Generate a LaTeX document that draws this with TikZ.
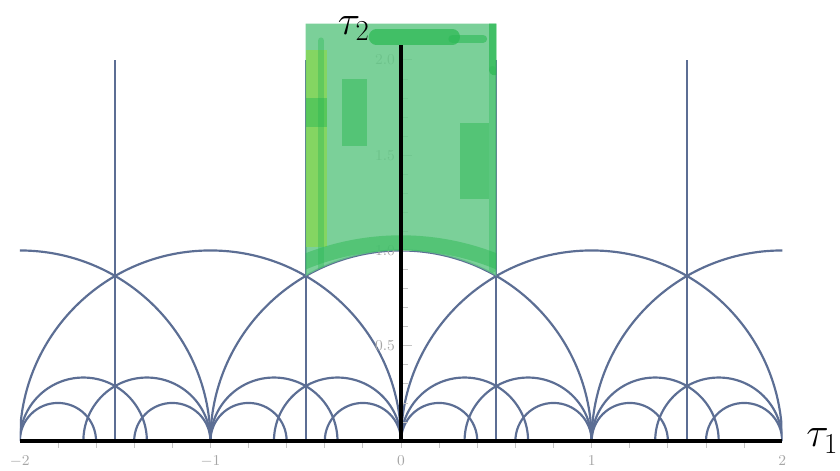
\documentclass[tikz,border=0pt]{standalone}
\usepackage{amsmath}
\usepackage{amssymb}
\usepackage{tikz}
\usetikzlibrary{positioning}

\definecolor{tilecol}{RGB}{92,110,148}
\definecolor{domfill}{RGB}{100,200,135}
\definecolor{domdark}{RGB}{45,185,85}
\definecolor{domlime}{RGB}{135,215,85}

\begin{document}
\begin{tikzpicture}[x=4cm,y=4cm]

\tikzset{
  tile line/.style={
    draw=tilecol,
    line width=1.3pt,
  },
  axis line/.style={
    draw=black,
    line width=2.4pt,
  },
  tick mark/.style={
    draw=gray!45,
    line width=0.5pt,
  },
  tick label/.style={
    text=gray!70,
    font=\fontsize{9}{10}\selectfont,
    inner sep=0pt,
  },
  axis label/.style={
    inner sep=0pt,
    font=\fontsize{24}{28}\selectfont,
  },
  smear/.style={
    draw=domdark,
    line width=#1,
    line cap=round,
    opacity=0.75,
  },
}

  \useasboundingbox (-2.104,-0.157) rectangle (2.303,2.314);

  % Tessellation
  \begin{scope}
    \clip (-2,0) rectangle (2,2.1);
    \foreach \c in {-2,...,2}
      \draw[tile line] ({\c-1},0) arc[start angle=180,end angle=0,radius=1];
    \foreach \n in {-2,...,1} {
      \draw[tile line] ({\n+0.5},0) -- ({\n+0.5},2);
      \draw[tile line] (\n,0) arc[start angle=180,end angle=0,radius=1/3];
      \draw[tile line] ({\n+1/3},0) arc[start angle=180,end angle=0,radius=1/3];
      \draw[tile line] (\n,0) arc[start angle=180,end angle=0,radius=0.2];
      \draw[tile line] ({\n+0.6},0) arc[start angle=180,end angle=0,radius=0.2];
    }
  \end{scope}

  % Ticks
  \foreach \x in {-1.8,-1.6,...,1.9}
    \draw[tick mark] (\x,-0.01) -- ++(0,-0.025);
  \foreach \y in {0.1,0.2,...,2.05}
    \draw[tick mark] (0.012,\y) -- ++(0.025,0);
  \foreach \y in {0.5,1.0,1.5,2.0}
    \draw[tick mark] (0.012,\y) -- ++(0.045,0);

  \foreach \x [count=\k] in {-2,...,2}
    \node[tick label] (xl\k) at (\x,-0.105) {$\x$};
  \foreach \y [count=\k] in {0.5,1.0,1.5,2.0}
    \node[tick label, anchor=east] (yl\k) at (-0.03,\y) {\y};

  % Fundamental domain
  \begin{scope}
    \clip (-0.5,2.19) -- (-0.5,{sqrt(3)/2})
      arc[start angle=120,end angle=60,radius=1] -- (0.5,2.19) -- cycle;
    \fill[domfill, opacity=0.85] (-0.6,0.8) rectangle (0.6,2.3);
    \fill[domlime, opacity=0.8] (-0.5,1.02) rectangle (-0.39,2.05);
    \fill[domdark, opacity=0.5] (-0.5,1.65) rectangle (-0.39,1.8);
    \fill[domdark, opacity=0.5] (-0.31,1.55) rectangle (-0.18,1.9);
    \fill[domdark, opacity=0.5] (0.31,1.27) rectangle (0.46,1.67);
    \draw[smear=9pt] (-0.13,2.12) -- (0.27,2.12);
    \draw[smear=5pt, opacity=0.6] (0.27,2.11) -- (0.43,2.11);
    \draw[smear=7pt] (0.49,2.2) -- (0.49,1.95);
    \draw[smear=4pt, opacity=0.4] (0.48,1.95) -- (0.48,0.9);
    \draw[smear=4pt, opacity=0.4] (-0.42,2.1) -- (-0.42,0.9);
    \draw[smear=9pt, opacity=0.5] (0,-0.3) ++(117:1.34) arc[start angle=117,end angle=63,radius=1.34];
  \end{scope}

  % Axes
  \coordinate (xmin) at (-2,0);
  \coordinate (xmax) at (2,0);
  \coordinate (O) at (0,0);
  \coordinate (ymax) at (0,2.08);

  \draw[axis line] (xmin) -- (xmax);
  \draw[axis line] (O) -- (ymax);

  % Labels
  \node[axis label, right=0.5cm of xmax] (t1) {$\tau_1$};
  \node[axis label, above left=0.08cm and 0.65cm of ymax] (t2) {$\tau_2$};
\end{tikzpicture}
\end{document}
